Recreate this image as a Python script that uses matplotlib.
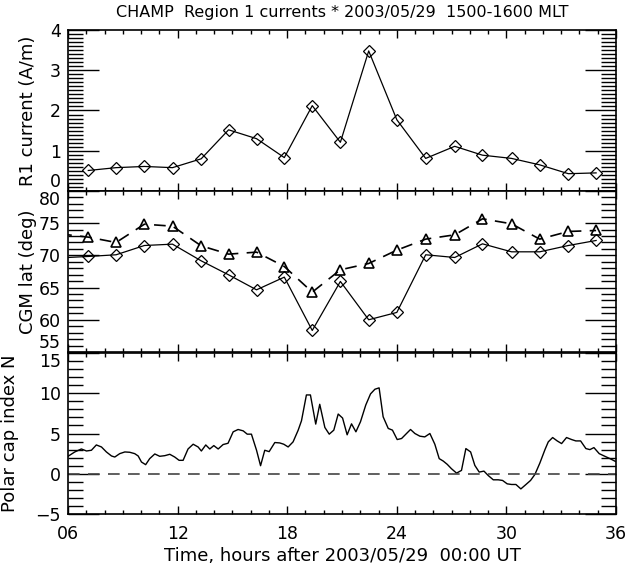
import numpy as np
import matplotlib
matplotlib.use("Agg")
import matplotlib.pyplot as plt
from matplotlib.ticker import MultipleLocator, FixedLocator

# --- R1 current (top panel), one point per CHAMP pass
pass_hours = [7.11, 8.63, 10.18, 11.72, 13.29, 14.79, 16.32, 17.84, 19.37, 20.91,
              22.46, 24.0, 25.58, 27.17, 28.69, 30.28, 31.82, 33.39, 34.91]
r1_current = [0.51, 0.58, 0.61, 0.58, 0.80, 1.52, 1.30, 0.83, 2.12, 1.21,
              3.48, 1.77, 0.81, 1.11, 0.89, 0.81, 0.65, 0.43, 0.45]

# --- CGM latitude (middle panel); first pass lies just before the plotted window
lat_hours = [5.57] + pass_hours
lat_r1 = [69.61, 69.83, 70.09, 71.53, 71.74, 69.15, 66.98, 64.65, 66.62, 58.34, 65.95,
          60.0, 61.14, 70.09, 69.67, 71.79, 70.55, 70.55, 71.53, 72.31]
lat_eq = [73.33, 72.83, 72.0, 74.84, 74.53, 71.48, 70.19, 70.5, 68.27, 64.29, 67.76,
          68.74, 70.81, 72.52, 73.19, 75.67, 74.9, 72.52, 73.71, 73.86]

# --- Polar cap index N (bottom panel)
pcn_hours = [6.0, 6.37, 6.73, 7.01, 7.28, 7.55, 7.83, 8.10, 8.38, 8.56, 8.83, 9.11, 9.38,
             9.65, 9.84, 10.02, 10.25, 10.47, 10.75, 11.02, 11.30, 11.57, 11.84, 12.08,
             12.30, 12.57, 12.85, 13.12, 13.30, 13.54, 13.76, 13.98, 14.22, 14.49, 14.76,
             15.04, 15.31, 15.59, 15.81, 16.04, 16.32, 16.54, 16.77, 17.01, 17.32, 17.59,
             17.81, 18.05, 18.32, 18.60, 18.78, 19.05, 19.27, 19.56, 19.78, 20.06, 20.30,
             20.55, 20.79, 21.03, 21.28, 21.52, 21.76, 22.01, 22.30, 22.56, 22.80, 23.03,
             23.25, 23.53, 23.76, 24.02, 24.26, 24.53, 24.75, 24.99, 25.26, 25.53, 25.81,
             26.08, 26.32, 26.54, 26.76, 26.99, 27.27, 27.54, 27.78, 28.04, 28.27, 28.51,
             28.77, 29.0, 29.28, 29.55, 29.79, 30.04, 30.28, 30.52, 30.79, 31.07, 31.32,
             31.56, 31.83, 32.11, 32.29, 32.53, 32.78, 33.02, 33.29, 33.57, 33.80, 34.06,
             34.35, 34.57, 34.79, 35.08, 35.39, 35.67, 36.03]
pcn = [2.17, 2.71, 3.08, 2.83, 2.92, 3.58, 3.33, 2.71, 2.21, 2.08, 2.5, 2.71, 2.67,
       2.5, 2.21, 1.46, 1.13, 1.88, 2.46, 2.17, 2.25, 2.42, 2.08, 1.67,
       1.67, 3.08, 3.67, 3.33, 2.83, 3.58, 3.08, 3.5, 3.08, 3.63, 3.79,
       5.21, 5.5, 5.33, 4.92, 4.92, 2.92, 1.0, 2.92, 2.75, 3.88, 3.83,
       3.67, 3.33, 3.96, 5.42, 6.58, 9.79, 9.79, 6.17, 8.63, 5.75, 4.92,
       5.42, 7.42, 6.92, 4.84, 6.2, 5.21, 6.46, 8.54, 9.92, 10.5, 10.67,
       7.08, 5.63, 5.42, 4.25, 4.38, 5.0, 5.5, 5.0, 4.67, 4.58, 5.0,
       3.67, 1.88, 1.58, 1.17, 0.63, 0.08, 0.42, 3.13, 2.71, 1.04, 0.21,
       0.33, -0.21, -0.75, -0.75, -0.83, -1.25, -1.33, -1.33, -1.88, -1.33, -0.83,
       -0.08, 1.33, 3.0, 3.96, 4.5, 4.08, 3.75, 4.5, 4.25, 4.08, 4.08,
       3.13, 3.0, 3.25, 2.5, 2.17, 1.88, 1.46]

xticks = [6, 12, 18, 24, 30, 36]
xticklabels = ["06", "12", "18", "24", "30", "36"]
r1_ticks = [0, 1, 2, 3, 4]
lat_ticks = [55, 60, 65, 70, 75, 80]
pcn_ticks = [-5, 0, 5, 10, 15]

plt.rcParams["font.size"] = 12
fig = plt.figure(figsize=(6.27, 5.70), dpi=100)

left, width = 0.1085, 0.874
bottoms = [0.6649, 0.3825, 0.0982]
height = 0.2825
axes = [fig.add_axes([left, b, width, height]) for b in bottoms]


def style(ax, yticks, ymin):
    ax.set_xlim(6, 36)
    ax.set_ylim(yticks[0], yticks[-1])
    ax.xaxis.set_major_locator(FixedLocator(xticks))
    ax.xaxis.set_minor_locator(MultipleLocator(1))
    ax.yaxis.set_major_locator(FixedLocator(yticks))
    ax.yaxis.set_minor_locator(MultipleLocator(ymin))
    ax.tick_params(which="both", direction="in", top=True, right=True, width=1)
    ax.tick_params(axis="x", which="major", length=6)
    ax.tick_params(axis="x", which="minor", length=3)
    ax.tick_params(axis="y", which="major", length=22, pad=5, labelsize=12.5)
    ax.tick_params(axis="y", which="minor", length=11)
    for s in ax.spines.values():
        s.set_linewidth(1.2)


def stack_edge_labels(ax, bottom=False, top=False):
    # IDL-style: edge labels of touching panels sit above/below each other
    ticks = ax.yaxis.get_major_ticks()
    if bottom:
        ticks[0].label1.set_va("bottom")
    if top:
        ticks[-1].label1.set_va("top")


ax1, ax2, ax3 = axes

ax1.plot(pass_hours, r1_current, "k-", lw=0.9, marker="D", ms=6, mfc="none", mew=0.9)
style(ax1, r1_ticks, 0.1)
ax1.set_xticklabels([])
ax1.set_ylabel("R1 current (A/m)", fontsize=13)
ax1.yaxis.set_label_coords(-0.057, 0.5)
ax1.set_title("CHAMP  Region 1 currents * 2003/05/29  1500-1600 MLT", fontsize=11.5, pad=9)

ax2.plot(lat_hours, lat_eq, "k--", lw=1.2, dashes=(7, 5), marker="^", ms=7, mfc="none", mew=1.2)
ax2.plot(lat_hours, lat_r1, "k-", lw=0.9, marker="D", ms=6, mfc="none", mew=0.9)
style(ax2, lat_ticks, 1)
ax2.set_xticklabels([])
ax2.set_ylabel("CGM lat (deg)", fontsize=13)
ax2.yaxis.set_label_coords(-0.057, 0.5)

ax3.plot(pcn_hours, pcn, "k-", lw=1.0)
ax3.axhline(0, color="#444444", lw=1.2, dashes=(7, 5))
style(ax3, pcn_ticks, 1)
ax3.set_xticklabels(xticklabels)
ax3.tick_params(axis="x", pad=8, labelsize=12.5)
ax3.set_ylabel("Polar cap index N", fontsize=13)
ax3.yaxis.set_label_coords(-0.09, 0.5)
ax3.set_xlabel("Time, hours after 2003/05/29  00:00 UT", fontsize=13, labelpad=3)

stack_edge_labels(ax1, bottom=True)
stack_edge_labels(ax2, bottom=True, top=True)
stack_edge_labels(ax3, top=True)

fig.savefig("out.png", dpi=100)
